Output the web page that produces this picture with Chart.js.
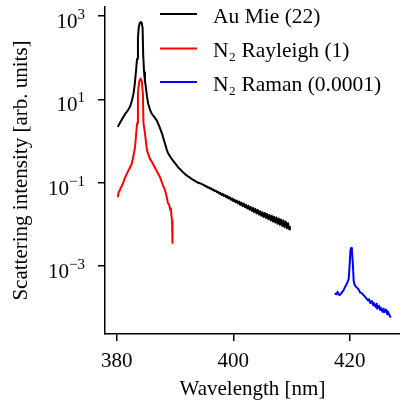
<!DOCTYPE html>
<html>
<head>
<meta charset="utf-8">
<script src="https://cdn.jsdelivr.net/npm/chart.js@4"></script>
<style>
html,body{margin:0;padding:0;background:#fff;}
canvas{display:block;}
</style>
</head>
<body>
<canvas id="c" width="400" height="404"></canvas>
<script>
// ---- data (wavelength in nm, intensity in arb. units) ----
const seriesLabels = ['Au Mie (22)', 'N\u2082 Rayleigh (1)', 'N\u2082 Raman (0.0001)'];
const seriesColors = ['#000000', '#ff0000', '#0000ff'];

const auWl = [380.2,380.6,381.1,381.5,381.9,382.3,382.6,382.9,383.1,383.3,383.5,383.65,383.8,384.0,384.15,384.3,384.45,384.55,384.7,384.85,385.0,385.2,385.4,385.7,386.0,386.5,386.9,387.3,387.8,388.2,388.6,388.8,389.2,389.8,390.5,391.2,392.0,393.0,394.0,
  394.4,394.6,394.8,395.0,395.2,395.4,395.6,395.8,396.0,396.2,396.4,396.6,396.8,397.0,397.2,397.4,397.6,397.8,398.0,398.2,398.4,398.6,398.8,399.0,399.2,399.4,399.6,399.8,
  400.0,400.2,400.4,400.6,400.8,401.0,401.2,401.4,401.6,401.8,402.0,402.2,402.4,402.6,402.8,403.0,403.2,403.4,403.6,403.8,404.0,404.2,404.4,404.6,404.8,405.0,405.2,405.4,405.6,405.8,
  406.0,406.2,406.4,406.6,406.8,407.0,407.2,407.4,407.6,407.8,408.0,408.2,408.4,408.6,408.8,409.0,409.2,409.4,409.6,409.7];
const auVal = [2.2,2.8,3.7,4.6,5.4,6.8,9.2,14,23,45,95,300,560,700,720,690,520,120,45,28,20,12,8,5.8,4.6,3.7,3.1,2.3,1.5,0.95,0.62,0.52,0.42,0.32,0.24,0.19,0.15,0.12,0.1,
  0.096,0.094,0.089,0.088,0.083,0.083,0.077,0.078,0.072,0.074,0.068,0.069,0.063,0.065,0.059,0.061,0.055,0.057,0.051,0.054,0.048,0.051,0.045,0.048,0.042,0.045,0.039,0.0425,
  0.0365,0.0395,0.034,0.0375,0.0318,0.0352,0.0295,0.0335,0.0276,0.0316,0.0258,0.0298,0.0241,0.0281,0.0226,0.0262,0.0211,0.0248,0.0197,0.0236,0.0184,0.0222,0.0172,0.0208,0.0161,0.0197,0.0151,0.0188,0.0142,0.0179,
  0.0134,0.0169,0.0125,0.0162,0.0118,0.0153,0.0111,0.0146,0.0104,0.0138,0.0098,0.0131,0.0092,0.0124,0.0086,0.0117,0.0081,0.0107,0.0076,0.0092];

const rayWl = [380.2,380.35,380.5,380.7,380.9,381.1,381.4,381.8,382.2,382.6,382.9,383.15,383.35,383.5,383.65,383.85,384.1,384.3,384.5,384.6,384.85,385.2,385.7,386.2,386.8,387.4,387.9,388.3,388.6,388.8,389.0,389.2,389.3,389.4,389.5,389.55,389.6];
const rayVal = [0.045,0.06,0.064,0.075,0.085,0.098,0.13,0.17,0.22,0.29,0.45,0.72,1.5,2.7,14,26,32,28,14,2.7,1.55,0.6,0.38,0.29,0.2,0.14,0.09,0.066,0.045,0.032,0.03,0.022,0.024,0.016,0.0125,0.006,0.0036];

const ramWl = [417.4,417.7,417.9,418.2,418.4,418.7,418.9,419.2,419.5,419.8,419.95,420.1,420.2,420.35,420.5,420.65,420.8,421.1,421.4,421.8,422.1,422.5,422.8,423.1,423.3,423.5,423.8,424.0,424.1,424.4,424.6,424.7,425.0,425.2,425.3,425.6,425.8,425.9,426.2,426.4,426.5,426.8,427.0];
const ramVal = [2.2e-4,2.1e-4,2.4e-4,2.0e-4,2.1e-4,2.4e-4,2.6e-4,3.2e-4,3.8e-4,4.9e-4,1.0e-3,2.4e-3,2.7e-3,2.4e-3,1.2e-3,4.5e-4,3.6e-4,3.1e-4,2.9e-4,2.3e-4,2.2e-4,1.9e-4,1.7e-4,1.5e-4,1.6e-4,1.3e-4,1.45e-4,1.15e-4,1.3e-4,1.05e-4,1.25e-4,0.95e-4,1.12e-4,0.88e-4,1.0e-4,0.8e-4,0.95e-4,0.78e-4,0.9e-4,0.7e-4,0.82e-4,0.66e-4,0.58e-4];

const xTicks = [380, 400, 420];
const yTicks = [1e-3, 1e-1, 1e1, 1e3];
const yTickBase = ['10', '10', '10', '10'];
const yTickExp = ['\u22123', '\u22121', '1', '3'];
const xTitle = 'Wavelength [nm]';
const yTitle = 'Scattering intensity [arb. units]';

// ---- build ----
const FONT = "'Liberation Serif', 'Times New Roman', serif";
function pts(xs, ys){ return xs.map((x,i)=>({x:x, y:ys[i]})); }
const sets = [[auWl,auVal],[rayWl,rayVal],[ramWl,ramVal]].map((s,i)=>({
  label: seriesLabels[i],
  data: pts(s[0], s[1]),
  borderColor: seriesColors[i],
  backgroundColor: seriesColors[i],
  borderWidth: 2,
  borderJoinStyle: 'round',
  pointRadius: 0,
  tension: 0,
  fill: false
}));

const decoPlugin = {
  id: 'deco',
  afterDraw(chart){
    const ctx = chart.ctx;
    ctx.save();
    // legend inside the plot
    const rows = [14, 48.5, 82];
    chart.data.datasets.forEach((ds, i) => {
      const y = rows[i];
      ctx.strokeStyle = ds.borderColor;
      ctx.lineWidth = 2;
      ctx.beginPath();
      ctx.moveTo(160, y); ctx.lineTo(197, y);
      ctx.stroke();
      ctx.fillStyle = '#000';
      ctx.font = '21.5px ' + FONT;
      ctx.textBaseline = 'alphabetic';
      ctx.textAlign = 'left';
      ctx.fillText(ds.label, 213, y + 8.5);
    });
    // y tick labels with superscript exponents
    const ys = chart.scales.y;
    const right = 85;
    yTicks.forEach((v, i) => {
      const py = ys.getPixelForValue(v);
      ctx.font = '15px ' + FONT;
      const ew = ctx.measureText(yTickExp[i]).width;
      ctx.fillStyle = '#000';
      ctx.textAlign = 'left';
      ctx.textBaseline = 'alphabetic';
      ctx.fillText(yTickExp[i], right - ew, py + 3);
      ctx.font = '21px ' + FONT;
      const bw = ctx.measureText(yTickBase[i]).width;
      ctx.fillText(yTickBase[i], right - ew - bw, py + 12);
    });
    ctx.restore();
  }
};

new Chart(document.getElementById('c'), {
  type: 'line',
  data: { datasets: sets },
  options: {
    responsive: false,
    devicePixelRatio: 1,
    animation: false,
    layout: { padding: { top: 7, right: 0, left: 0, bottom: 0 } },
    plugins: { legend: { display: false }, tooltip: { enabled: false } },
    scales: {
      x: {
        type: 'linear',
        min: 378.0,
        max: 428.6,
        afterBuildTicks(scale){ scale.ticks = xTicks.map(v=>({value:v})); },
        afterFit(scale){ scale.height = 70; scale.paddingLeft = 0; scale.paddingRight = 0; },
        grid: { drawOnChartArea: false, drawTicks: true, tickLength: 7, color: '#000', lineWidth: 1.5 },
        border: { display: true, color: '#000', width: 1.5 },
        ticks: { color: '#000', font: { family: FONT, size: 21 }, padding: 8, maxRotation: 0 },
        title: { display: true, text: xTitle, color: '#000', font: { family: FONT, size: 21 }, padding: { top: 0, bottom: 2 } }
      },
      y: {
        type: 'logarithmic',
        min: 2.34e-5,
        max: 1660,
        afterBuildTicks(scale){ scale.ticks = yTicks.map(v=>({value:v})); },
        afterFit(scale){ scale.width = 105; scale.paddingTop = 0; scale.paddingBottom = 0; },
        grid: { drawOnChartArea: false, drawTicks: true, tickLength: 7, color: '#000', lineWidth: 1.5 },
        border: { display: true, color: '#000', width: 1.5 },
        ticks: { display: false },
        title: { display: true, text: yTitle, color: '#000', font: { family: FONT, size: 21 }, padding: { top: 9, bottom: 0 } }
      }
    }
  },
  plugins: [decoPlugin]
});
</script>
</body>
</html>
